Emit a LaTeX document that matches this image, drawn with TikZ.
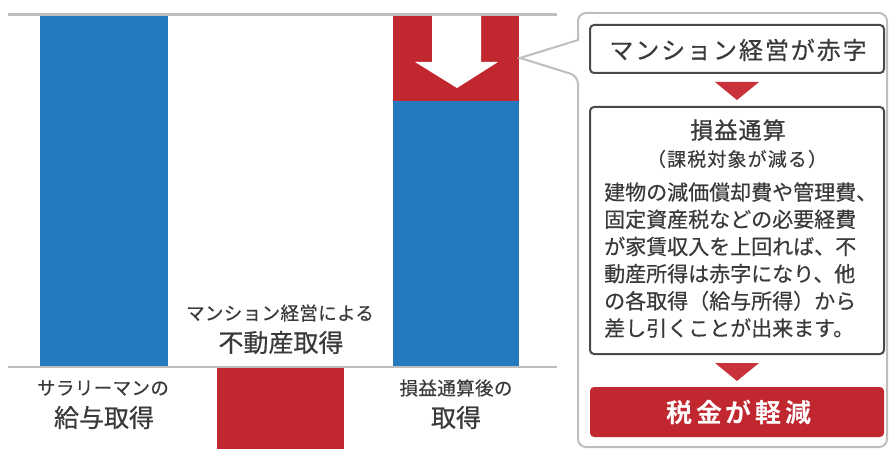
\documentclass[tikz,border=0pt]{standalone}
\usepackage{fontspec}
\setmainfont{Noto Sans CJK JP}[BoldFont={Noto Sans CJK JP Bold}]
\definecolor{barblue}{HTML}{2479BF}
\definecolor{barred}{HTML}{C1272F}
\definecolor{arrred}{HTML}{C9313B}
\definecolor{rulegray}{HTML}{BEBEBE}
\definecolor{txt}{HTML}{3A3A3A}
\definecolor{boxline}{HTML}{4A4A4A}
\tikzset{
  rule/.style={draw=rulegray, line width=2.6pt},
  lbl/.style={text=txt, inner sep=0pt, align=center},
  small/.style={font=\fontsize{18.5}{20}\selectfont\addfontfeature{LetterSpace=2,FakeBold=0.4}},
  big/.style={font=\fontsize{25}{27}\selectfont\addfontfeature{FakeBold=0.5}},
  flowbox/.style={draw=boxline, line width=2pt, rounded corners=4pt, fill=white, minimum width=294pt, inner sep=0pt},
  redbox/.style={fill=barred, rounded corners=4pt, minimum width=294pt, minimum height=50pt, inner sep=0pt},
  tri/.style={fill=arrred},
}
\begin{document}
\begin{tikzpicture}[x=1pt,y=-1pt]
\useasboundingbox (0,0) rectangle (890,449);
% rules
\draw[rule] (8,14.7) -- (557,14.7);
\draw[rule] (8,367) -- (557,367);
% bars
\fill[barblue] (40,16) rectangle (168,365.7);
\fill[barred] (217,368.3) rectangle (344,449);
\fill[barred] (393,16) rectangle (519,101);
\fill[barblue] (393,101) rectangle (519,365.7);
% white arrow
\fill[white] (432,16) -- (481,16) -- (481,62) -- (498,62) -- (457,88) -- (415,62) -- (432,62) -- cycle;
% labels
\node[lbl, small] (l1a) at (103,388) {サラリーマンの};
\node[lbl, big] (l1b) at (104,417.5) {給与取得};
\node[lbl, small] (l2a) at (280,313) {マンション経営による};
\node[lbl, big] (l2b) at (281,342.5) {不動産取得};
\node[lbl, small] (l3a) at (456,388) {損益通算後の};
\node[lbl, big] (l3b) at (456,417.5) {取得};
% callout
\coordinate (tip) at (520,58);
\draw[draw=rulegray, line width=2pt, fill=white, rounded corners=8pt]
  (578,40) -- (578,13) -- (887,13) -- (887,447) -- (578,447) -- (578,76)
  [sharp corners] -- (tip) -- cycle;
% flow boxes
\node[flowbox, minimum height=48pt] (b1) at (737,49) {};
\node[lbl, font=\fontsize{24}{26}\selectfont\addfontfeature{LetterSpace=8,FakeBold=0.3}] (b1t) at (738,50) {マンション経営が赤字};
\node[flowbox, minimum height=247pt] (b2) at (737,230.5) {};
\node[lbl, font=\fontsize{23}{25}\selectfont\addfontfeature{LetterSpace=5,FakeBold=0.8}] (b2t) at (738,130) {損益通算};
\node[lbl, font=\fontsize{19}{21}\selectfont\addfontfeature{LetterSpace=6,FakeBold=0.3}] (b2s) at (737,159) {（課税対象が減る）};
\node[lbl, align=left, anchor=west, font=\fontsize{21}{27.2}\selectfont\addfontfeature{FakeBold=0.4}] (b2b) at (604,260) {建物の減価償却費や管理費、\\固定資産税などの必要経費\\が家賃収入を上回れば、不\\動産所得は赤字になり、他\\の各取得（給与所得）から\\差し引くことが出来ます。};
\node[redbox] (b3) at (737,412) {};
\node[lbl, text=white, font=\fontsize{26}{28}\selectfont\bfseries\addfontfeature{LetterSpace=15}] (b3t) at (739,412) {税金が軽減};
% triangles between boxes
\fill[tri] ([xshift=-22pt,yshift=-8pt]b1.south) -- ([xshift=22pt,yshift=-8pt]b1.south) -- ([yshift=-26pt]b1.south) -- cycle;
\fill[tri] ([xshift=-22pt,yshift=-8pt]b2.south) -- ([xshift=22pt,yshift=-8pt]b2.south) -- ([yshift=-26pt]b2.south) -- cycle;
\end{tikzpicture}
\end{document}
